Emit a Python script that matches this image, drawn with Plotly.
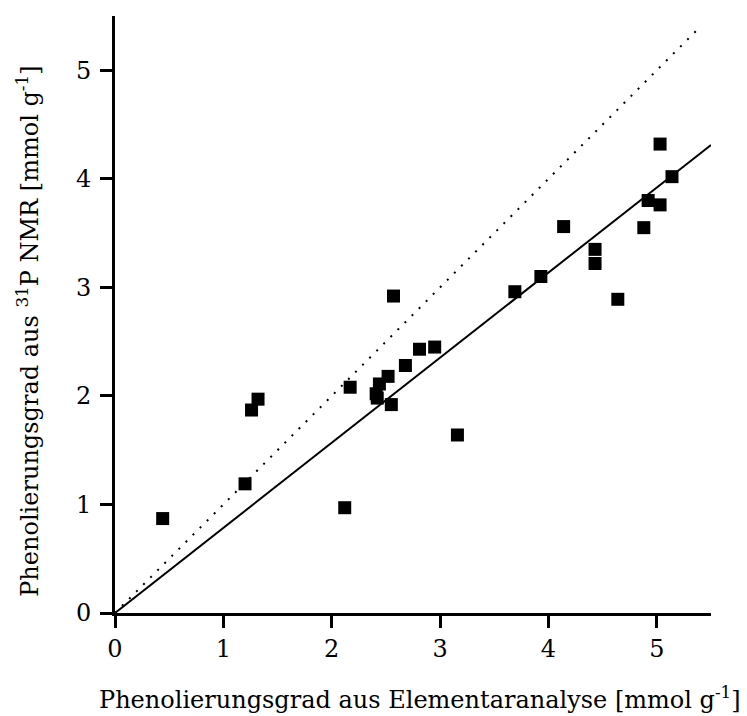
import plotly.graph_objects as go

# Degree of phenolation: elemental analysis (x) vs. 31P NMR (y), mmol/g
ea_values = [0.44, 1.20, 1.26, 1.32, 2.12, 2.17, 2.41, 2.42, 2.44, 2.52, 2.55, 2.57, 2.68, 2.81,
             2.95, 3.16, 3.69, 3.93, 4.14, 4.43, 4.43, 4.64, 4.88, 4.92, 5.03, 5.03, 5.14]
nmr_values = [0.87, 1.19, 1.87, 1.97, 0.97, 2.08, 2.02, 1.98, 2.11, 2.18, 1.92, 2.92, 2.28, 2.43,
              2.45, 1.64, 2.96, 3.10, 3.56, 3.35, 3.22, 2.89, 3.55, 3.80, 4.32, 3.76, 4.02]

# Regression through the origin and the 1:1 reference line
fit_slope = 0.784
fit_x = [0, 5.5]
ident_x = [0, 5.4]

tick_vals = [0, 1, 2, 3, 4, 5]
tick_text = ["0", "1", "2", "3", "4", "5"]

x_title = "Phenolierungsgrad aus Elementaranalyse [mmol g<sup>-1</sup>]"
y_title = "Phenolierungsgrad aus <sup>31</sup>P NMR [mmol g<sup>-1</sup>]"

FONT = "DejaVu Serif"

fig = go.Figure()
fig.add_trace(go.Scatter(
    x=ident_x, y=ident_x, mode="lines",
    line=dict(color="black", width=2, dash="2px,8px"),
    hoverinfo="skip", showlegend=False,
))
fig.add_trace(go.Scatter(
    x=fit_x, y=[fit_slope * v for v in fit_x], mode="lines",
    line=dict(color="black", width=2),
    hoverinfo="skip", showlegend=False,
))
fig.add_trace(go.Scatter(
    x=ea_values, y=nmr_values, mode="markers",
    marker=dict(symbol="square", size=13, color="black", line=dict(width=0)),
    showlegend=False,
))

axis_common = dict(
    range=[0, 5.5], tickvals=tick_vals, ticktext=tick_text,
    showline=True, linecolor="black", linewidth=3,
    ticks="outside", ticklen=12, tickwidth=3, tickcolor="black",
    showgrid=False, zeroline=False,
    tickfont=dict(family=FONT, size=24, color="black"),
)

fig.update_layout(
    width=747, height=716,
    margin=dict(l=115, r=36, t=16, b=103),
    paper_bgcolor="white", plot_bgcolor="white",
    font=dict(family=FONT, color="black"),
    xaxis=dict(**axis_common),
    yaxis=dict(**axis_common, ticklabelstandoff=4),
    annotations=[
        dict(text=x_title, xref="paper", yref="paper", x=0.512, y=-0.142,
             xanchor="center", yanchor="middle", showarrow=False,
             font=dict(family=FONT, size=24, color="black")),
        dict(text=y_title, xref="paper", yref="paper", x=-0.145, y=0.472,
             xanchor="center", yanchor="middle", textangle=-90, showarrow=False,
             font=dict(family=FONT, size=24, color="black")),
    ],
)

fig.write_html("out.html")
